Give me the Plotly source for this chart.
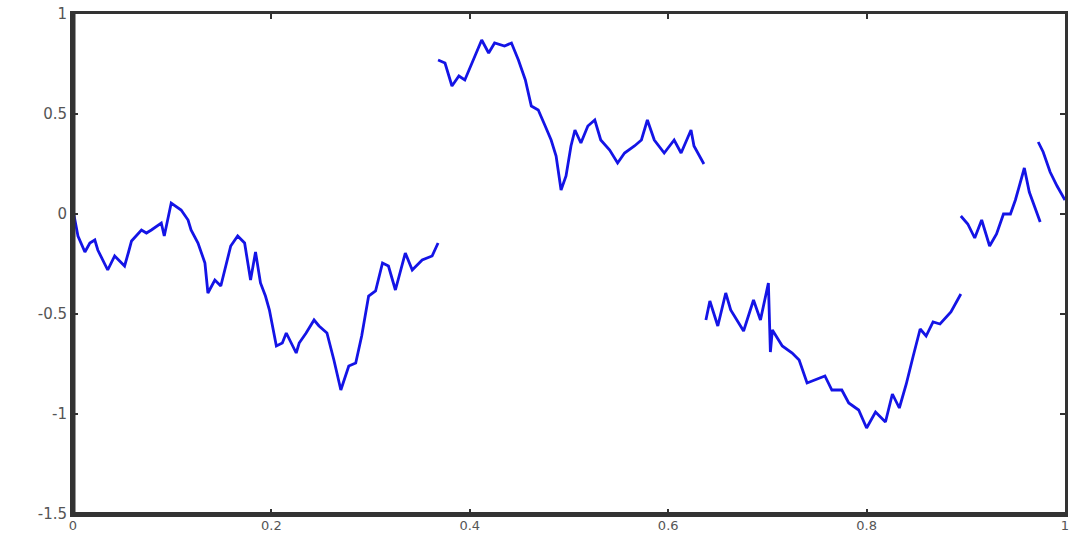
import plotly.graph_objects as go

# Segment data
seg1_x = [0.0, 0.005, 0.012, 0.017, 0.022, 0.025, 0.035, 0.042, 0.047, 0.052, 0.056, 0.059,
          0.069, 0.074, 0.079, 0.089, 0.092, 0.099, 0.109, 0.116, 0.119, 0.126, 0.133, 0.136,
          0.143, 0.149, 0.159, 0.166, 0.173, 0.179, 0.184, 0.189, 0.194, 0.198, 0.205, 0.211,
          0.215, 0.225, 0.228, 0.235, 0.243, 0.248, 0.256, 0.263, 0.270, 0.278, 0.285, 0.291,
          0.298, 0.305, 0.312, 0.318, 0.325, 0.335, 0.342, 0.352, 0.362, 0.368]
seg1_y = [0.02, -0.11, -0.19, -0.145, -0.13, -0.18, -0.28, -0.21, -0.235, -0.26, -0.19, -0.135,
          -0.08, -0.095, -0.08, -0.045, -0.11, 0.055, 0.02, -0.03, -0.08, -0.145, -0.245, -0.395,
          -0.33, -0.36, -0.16, -0.11, -0.145, -0.33, -0.19, -0.345, -0.41, -0.48, -0.66, -0.645,
          -0.595, -0.695, -0.645, -0.595, -0.53, -0.56, -0.595, -0.73, -0.88, -0.76, -0.745, -0.61,
          -0.41, -0.385, -0.245, -0.26, -0.38, -0.195, -0.28, -0.23, -0.21, -0.145]

seg2_x = [0.368, 0.375, 0.382, 0.389, 0.395, 0.402, 0.409, 0.412, 0.419, 0.425, 0.435, 0.442,
          0.449, 0.456, 0.462, 0.469, 0.476, 0.482, 0.487, 0.492, 0.497, 0.502, 0.506, 0.512,
          0.519, 0.526, 0.532, 0.541, 0.549, 0.556, 0.566, 0.573, 0.579, 0.586, 0.596, 0.606,
          0.613, 0.623, 0.626, 0.636]
seg2_y = [0.77, 0.755, 0.64, 0.69, 0.67, 0.755, 0.84, 0.87, 0.805, 0.855, 0.84, 0.855,
          0.77, 0.67, 0.54, 0.52, 0.44, 0.37, 0.29, 0.12, 0.19, 0.34, 0.42, 0.355,
          0.44, 0.47, 0.37, 0.32, 0.255, 0.305, 0.34, 0.37, 0.47, 0.37, 0.305, 0.37,
          0.305, 0.42, 0.34, 0.25]

seg3_x = [0.638, 0.642, 0.650, 0.658, 0.663, 0.676, 0.686, 0.693, 0.701, 0.702, 0.703, 0.705,
          0.715, 0.725, 0.732, 0.740, 0.748, 0.758, 0.765, 0.775, 0.782, 0.792, 0.800, 0.809,
          0.819, 0.826, 0.833, 0.840, 0.847, 0.854, 0.860, 0.867, 0.874, 0.885, 0.895]
seg3_y = [-0.53, -0.435, -0.56, -0.395, -0.48, -0.585, -0.43, -0.53, -0.345, -0.56, -0.69, -0.58,
          -0.66, -0.695, -0.73, -0.845, -0.83, -0.81, -0.88, -0.88, -0.945, -0.98, -1.07, -0.99,
          -1.04, -0.90, -0.97, -0.85, -0.71, -0.575, -0.61, -0.54, -0.55, -0.49, -0.40]

seg4_x = [0.895, 0.902, 0.909, 0.916, 0.924, 0.931, 0.938, 0.945, 0.950, 0.959, 0.964, 0.975]
seg4_y = [-0.01, -0.05, -0.12, -0.03, -0.16, -0.10, 0.0, 0.0, 0.07, 0.23, 0.11, -0.04]

seg5_x = [0.973, 0.978, 0.985, 0.992, 1.0]
seg5_y = [0.36, 0.31, 0.21, 0.14, 0.07]

x_ticks = [0, 0.2, 0.4, 0.6, 0.8, 1]
x_tick_labels = ["0", "0.2", "0.4", "0.6", "0.8", "1"]
y_ticks = [-1.5, -1, -0.5, 0, 0.5, 1]
y_tick_labels = ["-1.5", "-1", "-0.5", "0", "0.5", "1"]

xs, ys = [], []
for sx, sy in [(seg1_x, seg1_y), (seg2_x, seg2_y), (seg3_x, seg3_y), (seg4_x, seg4_y), (seg5_x, seg5_y)]:
    xs += sx + [None]
    ys += sy + [None]

fig = go.Figure()
fig.add_trace(go.Scatter(x=xs, y=ys, mode="lines", connectgaps=False,
                         line=dict(color="#1414e6", width=2.8), showlegend=False))

y_font = dict(family="DejaVu Sans", size=15, color="#555555")
x_font = dict(family="DejaVu Sans", size=13, color="#555555")
fig.update_xaxes(range=[0, 1], tickvals=x_ticks, ticktext=x_tick_labels, ticks="inside",
                 ticklen=5, tickwidth=2, tickcolor="#333", showline=True, linewidth=3,
                 linecolor="#333", mirror="ticks", showgrid=False, zeroline=False,
                 tickfont=x_font, ticklabelstandoff=-3, automargin=False)
fig.update_yaxes(range=[-1.5, 1], tickvals=y_ticks, ticktext=y_tick_labels, ticks="inside",
                 ticklen=5, tickwidth=2, tickcolor="#333", showline=True, linewidth=3,
                 linecolor="#333", mirror="ticks", showgrid=False, zeroline=False,
                 tickfont=y_font, automargin=False)

# thicker left and bottom frame
fig.add_shape(type="line", xref="paper", yref="paper", x0=0, x1=0, y0=0, y1=1,
              line=dict(color="#333", width=5))
fig.add_shape(type="line", xref="paper", yref="paper", x0=0, x1=1, y0=0, y1=0,
              line=dict(color="#333", width=4))

fig.update_layout(width=1073, height=534, margin=dict(l=73, r=8, t=14, b=20),
                  plot_bgcolor="white", paper_bgcolor="white")

fig.write_html("out.html")
